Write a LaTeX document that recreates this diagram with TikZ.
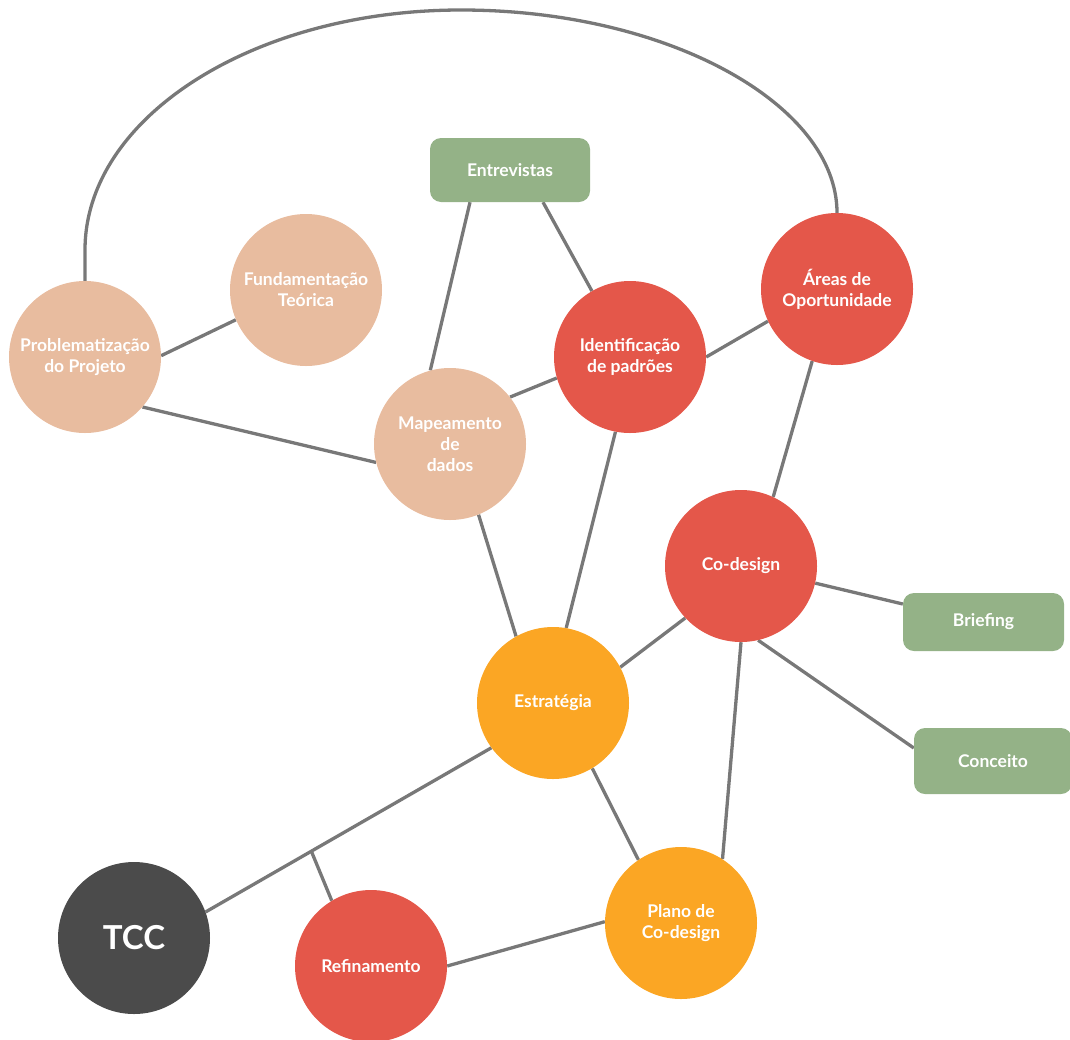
\documentclass[tikz,border=0pt]{standalone}
\usepackage{fontspec}
\setmainfont{Lato}
\definecolor{peach}{HTML}{E8BC9F}
\definecolor{redc}{HTML}{E4574A}
\definecolor{orangec}{HTML}{FBA624}
\definecolor{greenc}{HTML}{94B287}
\definecolor{darkc}{HTML}{4B4B4B}
\definecolor{linec}{HTML}{787878}
\pgfdeclarelayer{bg}
\pgfsetlayers{bg,main}
\begin{document}
\begin{tikzpicture}[x=1pt,y=-1pt,
  bubble/.style={circle,minimum size=152pt,inner sep=0pt,text=white,align=center,
    font=\fontsize{17.5}{21}\selectfont\bfseries},
  box/.style={rounded corners=11pt,fill=greenc,text=white,inner sep=0pt,
    font=\fontsize{17.5}{21}\selectfont\bfseries},
  link/.style={draw=linec,line width=3.3pt}]
\useasboundingbox (0,0) rectangle (1070,1039);
% nodes
\node[bubble,fill=peach] (prob) at (85,357) {Problematização\\do Projeto};
\node[bubble,fill=peach] (fund) at (306,290) {Fundamentação\\Teórica};
\node[bubble,fill=peach] (mapa) at (450,444) {Mapeamento\\de\\dados};
\node[bubble,fill=redc] (iden) at (630,357) {Identificação\\de padrões};
\node[bubble,fill=redc] (area) at (837,289) {Áreas de\\Oportunidade};
\node[bubble,fill=redc] (codes) at (741,566) {Co-design};
\node[bubble,fill=orangec] (estr) at (553,703) {Estratégia};
\node[bubble,fill=darkc,font=\fontsize{33}{38}\selectfont\bfseries] (tcc) at (134,938) {TCC};
\node[bubble,fill=redc] (refi) at (371,966) {Refinamento};
\node[bubble,fill=orangec] (plan) at (681,923) {Plano de\\Co-design};
\node[box,minimum width=160pt,minimum height=64pt] (entr) at (510,170) {Entrevistas};
\node[box,minimum width=161pt,minimum height=58pt] (brie) at (983.5,622) {Briefing};
\node[box,minimum width=158pt,minimum height=66pt] (conc) at (993,761) {Conceito};
% connectors
\begin{pgfonlayer}{bg}
\begin{scope}[link]
\draw (prob.90) -- (85,250) .. controls (85,117.5) and (253.4,10) .. (461,10)
      .. controls (668.6,10) and (837,105) .. (area.90);
\draw (prob.1) -- (fund.203);
\draw (prob.319) -- (mapa.194);
\draw ([xshift=-40pt]entr.south) -- (mapa.105);
\draw ([xshift=33pt]entr.south) -- (iden.120);
\draw (iden.196) -- (mapa.38);
\draw (iden.0) -- (area.205);
\draw (iden.259) -- (estr.80);
\draw (mapa.292) -- (estr.119);
\draw (area.251) -- (codes.65);
\draw (codes.347) -- ([yshift=18pt]brie.west);
\draw (codes.283) -- ([yshift=13pt]conc.west);
\draw (codes.223) -- (estr.28);
\draw (codes.270) -- (plan.57);
\draw (estr.301) -- (plan.124);
\draw (estr.216) -- coordinate[pos=0.63] (junc) (tcc.20);
\draw (junc) -- (refi.121);
\draw (refi.0) -- (plan.179);
\end{scope}
\end{pgfonlayer}
\end{tikzpicture}
\end{document}
